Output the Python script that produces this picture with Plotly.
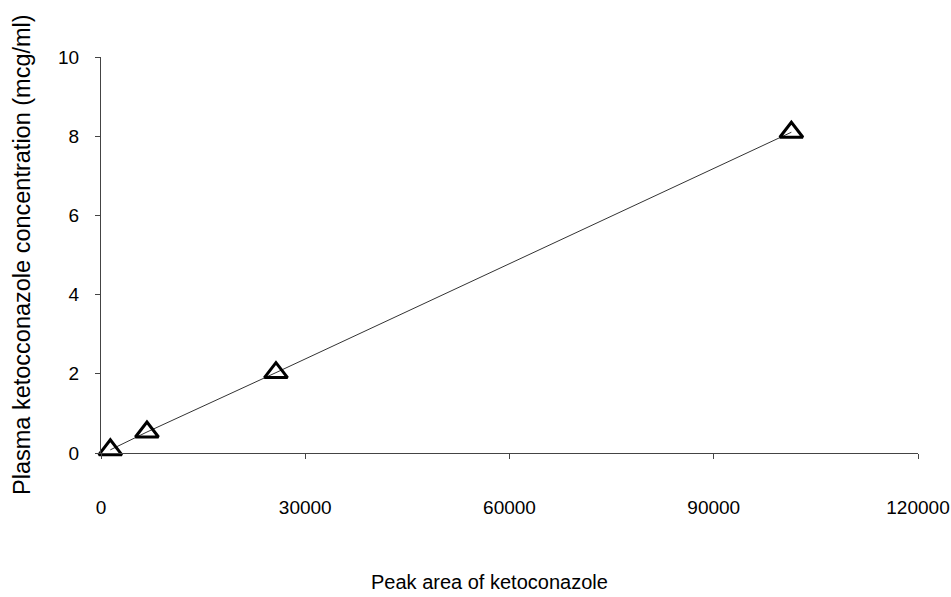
import plotly.graph_objects as go

peak_area = [1370, 6750, 25700, 101400]
concentration = [0.08, 0.53, 2.03, 8.1]

x_ticks = [0, 30000, 60000, 90000, 120000]
y_ticks = [0, 2, 4, 6, 8, 10]

x_title = "Peak area of ketoconazole"
y_title = "Plasma ketocconazole concentration (mcg/ml)"

fig = go.Figure()
fig.add_trace(go.Scatter(
    x=peak_area, y=concentration, mode="lines+markers",
    line=dict(color="#333333", width=1),
    marker=dict(symbol="triangle-up-open", size=20, color="black",
                line=dict(width=3, color="black")),
    showlegend=False, cliponaxis=False,
))

font = "Arial, Liberation Sans, sans-serif"
fig.update_layout(
    width=951, height=597,
    margin=dict(l=101, r=33, t=57, b=144),
    paper_bgcolor="white", plot_bgcolor="white",
    font=dict(family=font, size=19, color="black"),
    xaxis=dict(
        range=[0, 120000], tickvals=x_ticks, ticktext=[str(v) for v in x_ticks],
        showgrid=False, zeroline=False, showline=True, linecolor="#444444", linewidth=1,
        ticks="outside", ticklen=5, tickcolor="#444444",
        ticklabelstandoff=32,
        automargin=False,
    ),
    yaxis=dict(
        range=[0, 10], tickvals=y_ticks,
        showgrid=False, zeroline=False, showline=True, linecolor="#444444", linewidth=1,
        ticks="outside", ticklen=5, tickcolor="#444444",
        ticklabelstandoff=12,
        automargin=False,
    ),
    annotations=[
        dict(text=x_title, xref="paper", yref="paper", x=(489 - 101) / (918 - 101), y=-(582 - 453) / 396,
             xanchor="center", yanchor="middle", showarrow=False, font=dict(size=20)),
        dict(text=y_title, xref="paper", yref="paper", x=-(101 - 22) / 817, y=(453 - 255) / 396,
             xanchor="center", yanchor="middle", showarrow=False, textangle=-90, font=dict(size=23.5)),
    ],
)
fig.write_html("out.html")
